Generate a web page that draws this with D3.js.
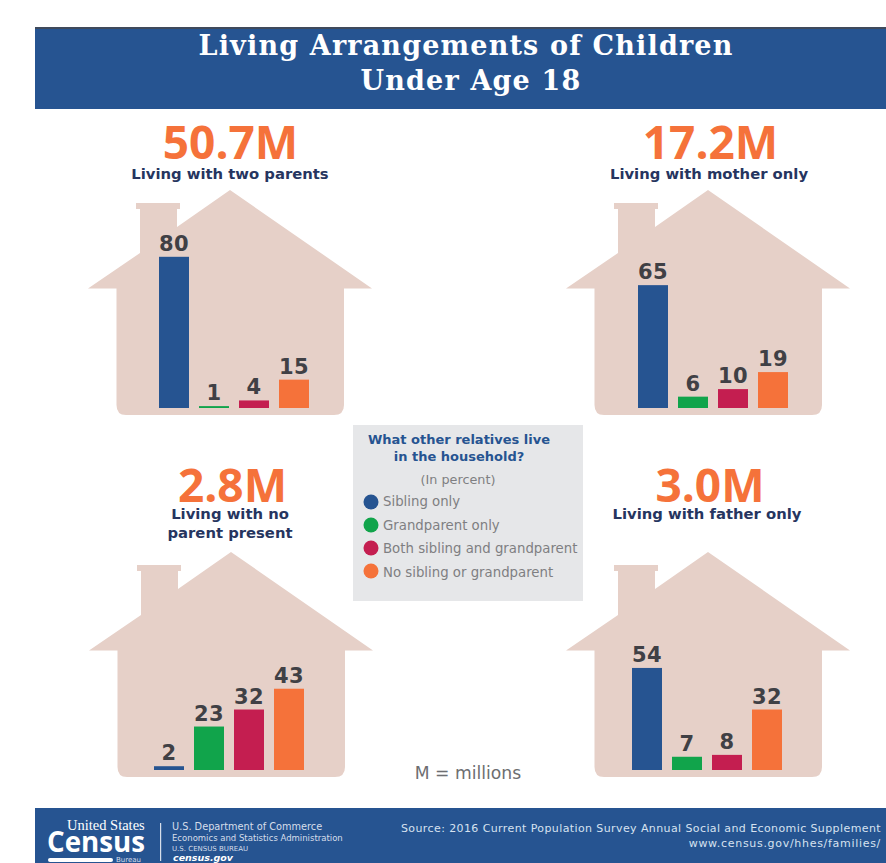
<!DOCTYPE html>
<html>
<head>
<meta charset="utf-8">
<script src="https://cdn.jsdelivr.net/npm/d3@7"></script>
<style>
  html, body { margin: 0; padding: 0; background: #fff; }
  svg { display: block; }
</style>
</head>
<body>
<svg id="chart" width="886" height="863"></svg>
<script>
// Household types and the share of each relative combination, in percent
const categories = ["Sibling only", "Grandparent only", "Both sibling and grandparent", "No sibling or grandparent"];
const colors = ["#265491", "#11a44b", "#c41e50", "#f5723a"];
const totals = ["50.7M", "17.2M", "2.8M", "3.0M"];
const subtitles = [["Living with two parents"], ["Living with mother only"], ["Living with no", "parent present"], ["Living with father only"]];
const twoParents = [80, 1, 4, 15];
const motherOnly = [65, 6, 10, 19];
const noParent = [2, 23, 32, 43];
const fatherOnly = [54, 7, 8, 32];
const seriesValues = [twoParents, motherOnly, noParent, fatherOnly];

const BLUE = "#265491", HOUSE = "#e6d0c8", ORANGE = "#f5723a";
const svg = d3.select("#chart");
const sans = "'DejaVu Sans', sans-serif";

// Panel anchors: roof peak, left edge of the bar group, headline placement
const panels = [
  { peakX: 230, peakY: 190, barX: 159, totalX: 230.5, totalY: 159, subX: 230, subY: 179 },
  { peakX: 708, peakY: 190, barX: 638, totalX: 710.5, totalY: 159, subX: 709, subY: 179 },
  { peakX: 231, peakY: 552, barX: 154, totalX: 232.5, totalY: 502, subX: 230, subY: 519 },
  { peakX: 708, peakY: 552, barX: 632, totalX: 710, totalY: 502, subX: 707, subY: 519 }
];

// Shared scales: value to bar height, category to slot inside a house
const height = d3.scaleLinear().domain([0, 100]).range([0, 189]);
const slot = d3.scaleBand().domain(d3.range(categories.length)).range([0, 150]).paddingInner(0.25).paddingOuter(0).align(0);

// House silhouette relative to its roof peak, with rounded bottom corners
function housePath() {
  const p = d3.path();
  p.moveTo(0, 0);
  p.lineTo(142, 98.5);
  p.lineTo(114, 98.5);
  p.lineTo(114, 215);
  p.quadraticCurveTo(114, 225, 104, 225);
  p.lineTo(-104, 225);
  p.quadraticCurveTo(-113.5, 225, -113.5, 215);
  p.lineTo(-113.5, 98.5);
  p.lineTo(-142, 98.5);
  p.lineTo(-90, 63);
  p.lineTo(-90, 19);
  p.lineTo(-94, 19);
  p.lineTo(-94, 13);
  p.lineTo(-50, 13);
  p.lineTo(-50, 19);
  p.lineTo(-53, 19);
  p.lineTo(-53, 37);
  p.closePath();
  return p.toString();
}

// Header band
svg.append("rect").attr("x", 35).attr("y", 27).attr("width", 851).attr("height", 82).attr("fill", BLUE);
svg.append("rect").attr("x", 35).attr("y", 27).attr("width", 851).attr("height", 2).attr("fill", "#3f4a5c");
svg.append("g").selectAll("text")
  .data(["Living Arrangements of Children", "Under Age 18"])
  .join("text")
  .attr("x", (d, i) => 466 + i * 5).attr("y", (d, i) => 55 + i * 35)
  .attr("text-anchor", "middle")
  .attr("font-family", "'DejaVu Serif', serif")
  .attr("font-weight", 700).attr("font-size", 27)
  .attr("letter-spacing", 1.17)
  .attr("fill", "#fff")
  .text(d => d);

// One house per living arrangement
const panel = svg.append("g").selectAll("g")
  .data(panels)
  .join("g");

panel.append("path")
  .attr("transform", d => `translate(${d.peakX},${d.peakY})`)
  .attr("d", housePath())
  .attr("fill", HOUSE);

panel.append("text")
  .attr("x", d => d.totalX).attr("y", d => d.totalY)
  .attr("text-anchor", "middle")
  .attr("font-family", "'Open Sans', sans-serif")
  .attr("font-weight", 700).attr("font-size", 46)
  .attr("fill", ORANGE)
  .text((d, i) => totals[i]);

panel.each(function (d, i) {
  const g = d3.select(this);
  const baseline = d.peakY + 218;

  g.selectAll("text.sub")
    .data(subtitles[i])
    .join("text")
    .attr("class", "sub")
    .attr("x", d.subX).attr("y", (t, k) => d.subY + k * 19)
    .attr("text-anchor", "middle")
    .attr("font-family", sans)
    .attr("font-weight", 700).attr("font-size", 14.8)
    .attr("fill", "#26355f")
    .text(t => t);

  g.selectAll("rect.bar")
    .data(seriesValues[i])
    .join("rect")
    .attr("class", "bar")
    .attr("x", (v, k) => d.barX + slot(k))
    .attr("y", v => baseline - height(v))
    .attr("width", slot.bandwidth())
    .attr("height", v => height(v))
    .attr("fill", (v, k) => colors[k]);

  g.selectAll("text.value")
    .data(seriesValues[i])
    .join("text")
    .attr("class", "value")
    .attr("x", (v, k) => d.barX + slot(k) + slot.bandwidth() / 2)
    .attr("y", v => baseline - height(v) - 6)
    .attr("text-anchor", "middle")
    .attr("font-family", sans)
    .attr("font-weight", 700).attr("font-size", 21)
    .attr("letter-spacing", 0.5)
    .attr("fill", "#404045")
    .text(v => v);
});

// Legend panel between the houses
const legend = svg.append("g");
legend.append("rect").attr("x", 353).attr("y", 425).attr("width", 230).attr("height", 176).attr("fill", "#e6e7e9");
legend.selectAll("text.head")
  .data(["What other relatives live", "in the household?"])
  .join("text")
  .attr("class", "head")
  .attr("x", 459).attr("y", (d, i) => 444 + i * 17)
  .attr("text-anchor", "middle")
  .attr("font-family", sans).attr("font-weight", 700).attr("font-size", 13)
  .attr("fill", BLUE)
  .text(d => d);
legend.append("text")
  .attr("x", 458).attr("y", 484)
  .attr("text-anchor", "middle")
  .attr("font-family", sans).attr("font-size", 12.8)
  .attr("fill", "#7f7f82")
  .text("(In percent)");
const legendRow = d3.scalePoint().domain(categories).range([502, 571]);
const legendText = d3.scalePoint().domain(categories).range([506, 577]);
legend.selectAll("circle")
  .data(categories)
  .join("circle")
  .attr("cx", 371).attr("cy", d => legendRow(d)).attr("r", 7.5)
  .attr("fill", (d, i) => colors[i]);
legend.selectAll("text.entry")
  .data(categories)
  .join("text")
  .attr("class", "entry")
  .attr("x", 383).attr("y", d => legendText(d))
  .attr("font-family", sans).attr("font-size", 13.3)
  .attr("fill", "#7f7f82")
  .text(d => d);

svg.append("text")
  .attr("x", 468).attr("y", 779)
  .attr("text-anchor", "middle")
  .attr("font-family", sans).attr("font-size", 17.2)
  .attr("fill", "#6d6e71")
  .text("M = millions");

// Footer band with agency identity and source note
svg.append("rect").attr("x", 35).attr("y", 808).attr("width", 851).attr("height", 55).attr("fill", BLUE);
const foot = svg.append("g").attr("fill", "#fff");
foot.append("text").attr("x", 67).attr("y", 830).attr("font-family", "'Liberation Serif', serif").attr("font-size", 14.5).text("United States");
foot.append("text").attr("x", 47).attr("y", 852).attr("font-family", "'Open Sans', sans-serif").attr("font-weight", 700).attr("font-size", 29).attr("textLength", 98).attr("lengthAdjust", "spacingAndGlyphs").text("Census");
foot.append("rect").attr("x", 48).attr("y", 858).attr("width", 65).attr("height", 4).attr("rx", 2);
foot.append("text").attr("x", 116).attr("y", 862).attr("font-family", sans).attr("font-size", 7).attr("fill", "#d6deea").text("Bureau");
foot.append("rect").attr("x", 160).attr("y", 823).attr("width", 1.2).attr("height", 38).attr("fill", "#d6deea");
foot.selectAll("text.agency")
  .data([["U.S. Department of Commerce", 830, 9.75], ["Economics and Statistics Administration", 841, 8.5], ["U.S. CENSUS BUREAU", 851, 7]])
  .join("text")
  .attr("class", "agency")
  .attr("x", 172).attr("y", d => d[1])
  .attr("font-family", sans).attr("font-size", d => d[2])
  .attr("fill", "#d6deea")
  .text(d => d[0]);
foot.append("text").attr("x", 173).attr("y", 861).attr("font-family", sans).attr("font-style", "italic").attr("font-weight", 700).attr("font-size", 9.5).text("census.gov");
foot.selectAll("text.source")
  .data([["Source: 2016 Current Population Survey Annual Social and Economic Supplement", 0.4], ["www.census.gov/hhes/families/", 0.7]])
  .join("text")
  .attr("class", "source")
  .attr("x", 881).attr("y", (d, i) => 832 + i * 15)
  .attr("text-anchor", "end")
  .attr("font-family", sans).attr("font-size", 11)
  .attr("letter-spacing", d => d[1])
  .attr("fill", "#d6e2f0")
  .text(d => d[0]);
</script>
</body>
</html>
